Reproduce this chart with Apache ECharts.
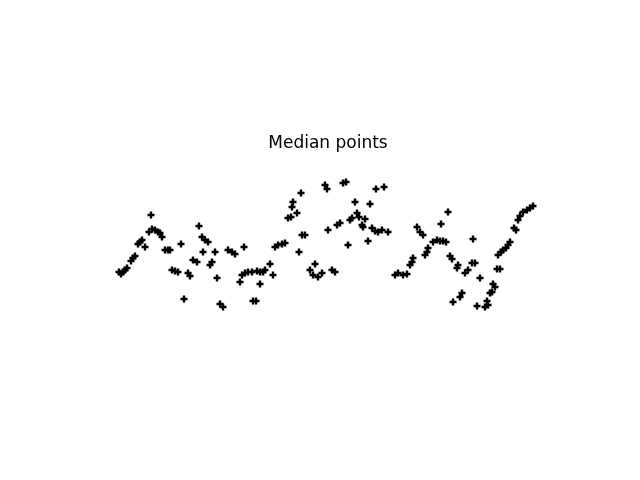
<!DOCTYPE html>
<html>
<head>
<meta charset="utf-8">
<script src="https://cdn.jsdelivr.net/npm/echarts@6/dist/echarts.min.js"></script>
<style>html,body{margin:0;padding:0;background:#fff}#c{width:640px;height:480px}</style>
</head>
<body>
<div id="c"></div>
<script>
// Values (x, y in the chart's own units; y grows downward)
const segmentA = [[119,272],[121,274],[123,272],[125,270],[127,268],[131,261],[133,258],[135,256],
  [138,244],[140,242],[142,240],[145,247],[149,232],[152,229],[155,230],[158,232],[160,233],
  [151,215],[162,237],[165,250],[168,250],[170,250],[172,270],[175,271],[178,272],[181,244],[184,299]];
const segmentB = [[188,273],[190,276],[199,226],[202,237],[205,240],[208,242],[203,252],[215,252],
  [193,260],[197,262],[212,262],[210,265],[217,278],[228,250],[232,252],[235,254],[244,247],
  [242,275],[245,273],[248,272],[252,272],[240,282],[257,271],[260,272],[260,284],
  [220,304],[223,307],[253,301],[256,301]];
const segmentC = [[325,185],[327,189],[301,193],[293,202],[292,207],[297,213],[288,218],[291,217],
  [302,235],[305,235],[328,230],[337,225],[275,247],[278,245],[282,244],[285,243],[299,252],
  [270,264],[265,270],[263,272],[273,275],[315,264],[310,270],[313,275],[322,273],[318,277],
  [332,270],[335,272]];
const segmentD = [[343,183],[346,182],[376,189],[384,187],[355,202],[370,204],[357,213],[359,217],
  [352,218],[350,220],[365,219],[340,223],[362,225],[363,227],[372,228],[375,231],[378,232],
  [382,230],[388,232],[348,245],[368,241],[395,275],[398,273],[403,275],[407,274]];
const segmentE = [[448,212],[441,224],[417,227],[420,232],[423,235],[473,239],[433,242],[437,240],
  [440,241],[443,241],[446,242],[428,248],[427,252],[425,255],[413,258],[412,262],[410,265],
  [450,256],[452,259],[458,265],[457,268],[472,263],[475,263],[468,270],[465,273],[480,278],
  [462,293],[460,297],[453,302],[477,306]];
const segmentF = [[533,206],[530,208],[527,210],[523,212],[520,216],[518,220],[514,228],[516,230],
  [510,242],[508,245],[506,248],[503,250],[501,252],[498,255],[497,269],[500,269],
  [493,284],[495,287],[492,292],[490,293],[487,301],[488,305],[485,307]];
const titleText = 'Median points';

const points = [].concat(segmentA, segmentB, segmentC, segmentD, segmentE, segmentF);
const plus = 'path://M2.3,0H4.7V2.3H7V4.7H4.7V7H2.3V4.7H0V2.3H2.3Z';

const chart = echarts.init(document.getElementById('c'), null, {renderer: 'canvas'});
chart.setOption({
  animation: false,
  backgroundColor: '#ffffff',
  graphic: [{
    type: 'text',
    x: 328, y: 144,
    style: {
      text: titleText,
      fill: '#000',
      font: '17px "DejaVu Sans"',
      textAlign: 'center',
      textVerticalAlign: 'middle'
    }
  }],
  grid: {left: 0, right: 0, top: 0, bottom: 0},
  xAxis: {type: 'value', min: 0, max: 640, show: false},
  yAxis: {type: 'value', min: 0, max: 480, inverse: true, show: false},
  series: [{
    type: 'scatter',
    data: points,
    symbol: plus,
    symbolSize: 7,
    symbolKeepAspect: true,
    itemStyle: {color: '#000', opacity: 1},
    silent: true
  }]
});
</script>
</body>
</html>
